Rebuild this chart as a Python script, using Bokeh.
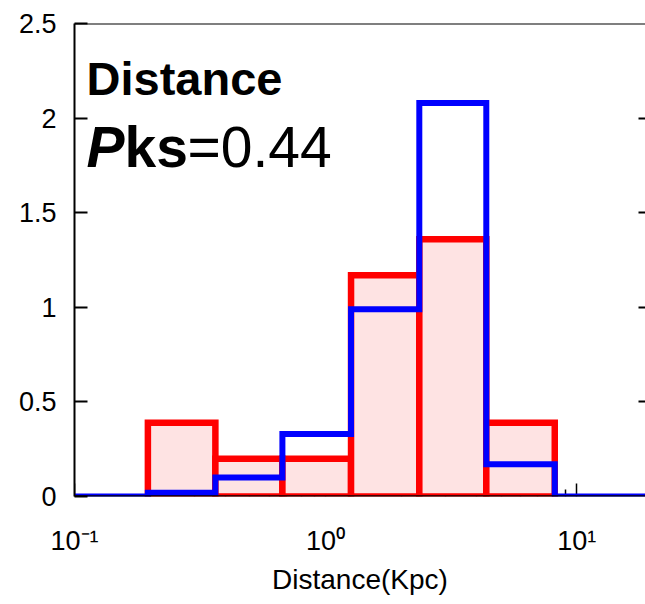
import numpy as np
from bokeh.plotting import figure
from bokeh.models import (ColumnDataSource, FixedTicker, LinearAxis, LogAxis,
                          Label, Span, Range1d)
from bokeh.embed import file_html
from bokeh.resources import INLINE

# Histogram bin edges in kpc (log-spaced) and normalised counts per bin
bin_edges = [0.196, 0.364, 0.673, 1.263, 2.362, 4.366, 8.18]
red_density = [0.39, 0.20, 0.20, 1.17, 1.36, 0.39]
blue_density = [0.02, 0.10, 0.33, 0.99, 2.08, 0.17]

# Axis limits and ticks
x_limits = [0.1, 18.8]
y_limits = [0.0, 2.5]
y_ticks = [0, 0.5, 1, 1.5, 2, 2.5]
y_tick_labels = ["0", "0.5", "1", "1.5", "2", "2.5"]
x_major_ticks = [0.1, 1, 10]
x_tick_labels = ["10\u207b\u00b9", "10\u2070", "10\u00b9"]
x_minor_ticks = [0.2, 0.3, 0.4, 0.5, 0.6, 0.7, 0.8, 0.9,
                 2, 3, 4, 5, 6, 7, 8, 9]

FONT = "Liberation Sans"

p = figure(width=645, height=604, x_axis_type="log",
           x_range=Range1d(*x_limits), y_range=Range1d(*y_limits),
           output_backend="svg", toolbar_location=None,
           min_border_left=74, min_border_right=0,
           min_border_top=23, min_border_bottom=108)
p.outline_line_color = None
p.grid.visible = False
p.background_fill_color = "white"
p.border_fill_color = "white"

# Red histogram: filled bars with thick outlines
red_src = ColumnDataSource(dict(left=bin_edges[:-1], right=bin_edges[1:],
                                top=red_density,
                                bottom=[0.0] * len(red_density)))
p.quad(left="left", right="right", top="top", bottom="bottom", source=red_src,
       fill_color="#FEE3E3", line_color="#FF0000", line_width=6.5,
       line_join="miter")

# Blue histogram: stairs outline only, zero outside the binned range
xs = [x_limits[0], bin_edges[0]]
ys = [0.0, 0.0]
for i, v in enumerate(blue_density):
    xs += [bin_edges[i], bin_edges[i + 1]]
    ys += [v, v]
xs += [bin_edges[-1], 20.0]
ys += [0.0, 0.0]
p.line(xs, ys, line_color="#0000FF", line_width=6, line_join="miter")

# Innermost bottom axis: inward ticks only, painted beneath the bars
tick_axis = p.xaxis[0]
tick_axis.level = "underlay"
tick_axis.ticker = FixedTicker(ticks=x_major_ticks, minor_ticks=x_minor_ticks)
tick_axis.major_tick_in = 13
tick_axis.major_tick_out = 0
tick_axis.minor_tick_in = 7
tick_axis.minor_tick_out = 0
tick_axis.major_tick_line_color = "black"
tick_axis.minor_tick_line_color = "black"
tick_axis.major_tick_line_width = 1.5
tick_axis.minor_tick_line_width = 1.5
tick_axis.axis_line_color = None
tick_axis.major_label_text_font_size = "1px"
tick_axis.major_label_text_alpha = 0
tick_axis.major_label_standoff = 0

# Outer bottom axis: power-of-ten labels and the axis title
label_axis = LogAxis(ticker=FixedTicker(ticks=x_major_ticks),
                     major_label_overrides=dict(zip(x_major_ticks,
                                                    x_tick_labels)),
                     major_tick_line_color=None, minor_tick_line_color=None,
                     major_tick_in=0, major_tick_out=0,
                     axis_line_color=None,
                     major_label_text_font=FONT,
                     major_label_text_font_size="27px",
                     major_label_text_color="black",
                     major_label_standoff=29,
                     axis_label="Distance(Kpc)",
                     axis_label_text_font=FONT,
                     axis_label_text_font_size="28px",
                     axis_label_text_font_style="normal",
                     axis_label_text_color="black",
                     axis_label_standoff=5)
p.add_layout(label_axis, "below")

# Frame lines drawn over the bars: baseline and top border
p.add_layout(Span(location=y_limits[0], dimension="width",
                  line_color="black", line_width=2.5))
p.add_layout(Span(location=y_limits[1], dimension="width",
                  line_color="black", line_width=2))

# Left axis
yaxis = p.yaxis[0]
yaxis.ticker = FixedTicker(ticks=y_ticks)
yaxis.major_label_overrides = dict(zip(y_ticks, y_tick_labels))
yaxis.major_tick_in = 13
yaxis.major_tick_out = 0
yaxis.minor_tick_line_color = None
yaxis.major_tick_line_width = 2
yaxis.axis_line_width = 2
yaxis.axis_line_color = "black"
yaxis.major_tick_line_color = "black"
yaxis.major_label_text_font = FONT
yaxis.major_label_text_font_size = "27px"
yaxis.major_label_text_color = "black"
yaxis.major_label_standoff = 18

# Right axis: inward ticks only
raxis = LinearAxis(ticker=FixedTicker(ticks=y_ticks[1:-1]),
                   major_tick_in=7, major_tick_out=0,
                   major_tick_line_width=2, major_tick_line_color="black",
                   minor_tick_line_color=None, axis_line_color=None,
                   major_label_text_font_size="1px",
                   major_label_text_alpha=0, major_label_standoff=0)
p.add_layout(raxis, "right")

# Panel annotation
top_left = dict(x=x_limits[0], y=y_limits[1], text_baseline="alphabetic",
                text_font=FONT, text_color="black")
p.add_layout(Label(text="Distance", x_offset=12, y_offset=-55,
                   text_font_size="47px", text_font_style="bold", **top_left))
p.add_layout(Label(text="P", x_offset=12, y_offset=-123,
                   text_font_size="57px", text_font_style="bold italic",
                   **top_left))
p.add_layout(Label(text="ks", x_offset=50, y_offset=-123,
                   text_font_size="57px", text_font_style="bold", **top_left))
p.add_layout(Label(text="=0.44", x_offset=113, y_offset=-123,
                   text_font_size="57px", **top_left))

open("out.html", "w").write(file_html(p, INLINE))
